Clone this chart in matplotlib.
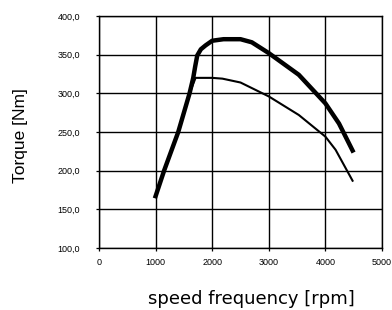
import matplotlib.pyplot as plt

# torque curves
rpm_hi = [1000, 1150, 1400, 1600, 1665, 1700, 1736, 1800, 1883, 2000, 2200, 2500, 2700, 3000, 3530, 4000, 4240, 4480]
nm_hi = [167, 200, 250, 300, 320, 335, 349, 357, 362, 368, 370, 370, 366, 352, 324, 287, 261, 226]

rpm_lo = [1000, 1150, 1400, 1600, 1706, 2000, 2180, 2500, 3000, 3530, 4000, 4180, 4480]
nm_lo = [167, 200, 250, 300, 320, 320, 319, 314, 296, 272, 244, 227, 187]

xticks = [0, 1000, 2000, 3000, 4000, 5000]
yticks = [100, 150, 200, 250, 300, 350, 400]
ylabels = ["100,0", "150,0", "200,0", "250,0", "300,0", "350,0", "400,0"]

plt.rcParams['font.family'] = ['Liberation Sans', 'DejaVu Sans']

fig = plt.figure(figsize=(3.92, 3.10), dpi=100)
ax = fig.add_axes([99/392, 1-248/310, 283/392, 232/310])

ax.plot(rpm_hi, nm_hi, color="black", lw=3.2, solid_joinstyle="round")
ax.plot(rpm_lo, nm_lo, color="black", lw=1.5)

ax.set_xlim(0, 5000)
ax.set_ylim(100, 400)
ax.set_xticks(xticks)
ax.set_xticklabels([str(t) for t in xticks])
ax.set_yticks(yticks)
ax.set_yticklabels(ylabels)
ax.tick_params(labelsize=6.5, length=2.5, width=0.9, direction="out")
ax.tick_params(axis="y", pad=11)
ax.tick_params(axis="x", pad=4.5)
ax.grid(True, color="black", lw=1.0)
for s in ax.spines.values():
    s.set_linewidth(1.0)

fig.text(251/392, 1-304/310, "speed frequency [rpm]", fontsize=13,
         family="DejaVu Sans", ha="center", va="baseline")
fig.text(21/392, 1-136/310, "Torque [Nm]", fontsize=12.5,
         rotation=90, ha="center", va="center")

fig.savefig("out.png", dpi=100)
